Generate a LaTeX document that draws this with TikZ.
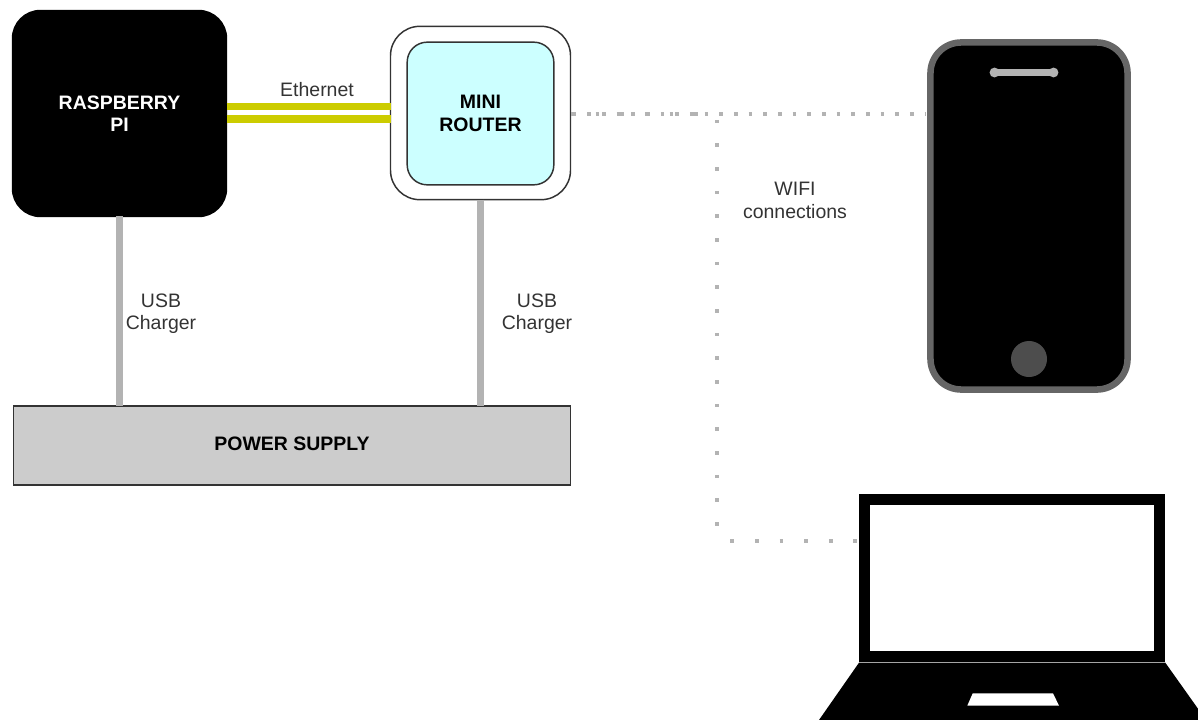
\documentclass[tikz,border=0pt]{standalone}
\usepackage{fontspec}
\setmainfont{Liberation Sans}
\definecolor{wiregray}{HTML}{B3B3B3}
\definecolor{ethyellow}{HTML}{CCCC00}
\definecolor{routercyan}{HTML}{CCFFFF}
\definecolor{supplygray}{HTML}{CCCCCC}
\definecolor{phonegray}{HTML}{666666}
\definecolor{homegray}{HTML}{4D4D4D}
\begin{document}
\begin{tikzpicture}[
  x=0.75pt, y=-0.75pt,
  every node/.style={align=center, inner sep=0pt, outer sep=0pt, font=\fontsize{14.6}{16.8}\selectfont},
  devbox/.style={draw=black!80, line width=1.1pt, rounded corners=#1, font=\fontsize{14.6}{16.8}\selectfont\bfseries},
  lbl/.style={text=black!80},
  usbwire/.style={draw=wiregray, line width=5.25pt},
  ethwire/.style={draw=ethyellow, line width=5.5pt},
  wifidots/.style={draw=wiregray, line width=2.75pt}
]
  \useasboundingbox (0,0) rectangle (1198,720);
  \node[devbox=21pt, fill=black, text=white, draw=black, minimum width=160.5pt, minimum height=154.5pt] (rpi) at (119.5,113.5) {RASPBERRY\\PI};
  \node[devbox=22pt, fill=white, minimum width=135pt, minimum height=130pt] (router) at (480.5,113) {};
  \node[devbox=15pt, fill=routercyan, minimum width=110pt, minimum height=107pt] (routerin) at (480.5,113.5) {MINI\\ROUTER};
  \node[devbox=0pt, fill=supplygray, text depth=3pt, minimum width=418pt, minimum height=59pt] (power) at (292,445.5) {POWER SUPPLY};
  \coordinate (eth) at (308,112.6);
  \coordinate (wifi) at (717.3,114);
  \coordinate (lapcon) at (717.3,540.7);
  \node[draw=phonegray, fill=black, line width=4.9pt, rounded corners=23pt, minimum width=147.8pt, minimum height=260.3pt] (phone) at (1029,216) {};
  \node[circle, draw=homegray, fill=homegray, line width=1pt, minimum size=26pt] (home) at (1029,359) {};
  \node[draw=black, fill=white, line width=8.2pt, minimum width=221.3pt, minimum height=117.5pt] (laptop) at (1012.2,578.2) {};
  \draw[ethwire] ([yshift=4.7pt]eth -| rpi.east) -- ([yshift=4.7pt]eth -| router.west);
  \draw[ethwire] ([yshift=-4.7pt]eth -| rpi.east) -- ([yshift=-4.7pt]eth -| router.west);
  \draw[usbwire] (rpi.south) -- (rpi.south |- power.north);
  \draw[usbwire] (router.south) -- (router.south |- power.north);
  \draw[wifidots, dash pattern=on 2.75pt off 8.25pt, dash phase=9.5pt, shorten >=4pt] (wifi -| router.east) -- (wifi -| phone.west);
  \draw[wifidots, dash pattern=on 2.75pt off 15.7pt, dash phase=18pt] (wifi -| router.east) -- (wifi);
  \draw[wifidots, dash pattern=on 2.75pt off 15pt, dash phase=13.38pt] (wifi) -- (lapcon);
  \draw[wifidots, dash pattern=on 2.75pt off 15.7pt, dash phase=8.57pt] (lapcon) -- (lapcon -| laptop.west);
  \draw[line width=5.5pt, line cap=round, wiregray] (994,72.5) -- (1054,72.5);
  \fill[wiregray] (994.5,72.5) circle (3.7pt) (1053.5,72.5) circle (3.7pt);
  \fill[black] (859,662.7) -- (1165.3,662.7) -- (1206,720) -- (819,720) -- cycle;
  \fill[white] (972.7,693.3) -- (1053,693.3) -- (1059,705.7) -- (967.3,705.7) -- cycle;
  \node[lbl] (ethlbl) at (317,89.5) {Ethernet};
  \node[lbl] (usbA) at (161,314) {USB\\Charger};
  \node[lbl] (usbB) at (537,314) {USB\\Charger};
  \node[lbl] (wifilbl) at (795,200.5) {WIFI\\connections};
\end{tikzpicture}
\end{document}
